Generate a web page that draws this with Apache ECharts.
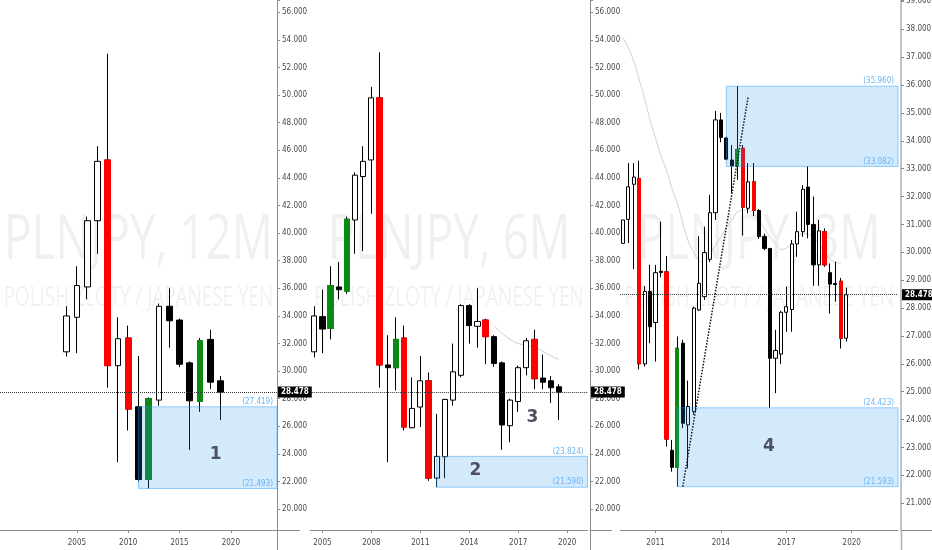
<!DOCTYPE html>
<html><head><meta charset="utf-8">
<script src="https://cdn.jsdelivr.net/npm/echarts@6/dist/echarts.min.js"></script>
<style>html,body{margin:0;padding:0;background:#fff}#c{width:932px;height:550px}</style>
</head><body><div id="c"></div>
<script>
// ===== Panel 1 : PLNJPY 12M (yearly) =====
const p1Years  = ['2004','2005','2006','2007','2008','2009','2010','2011','2012','2013','2014','2015','2016','2017','2018','2019'];
const p1Open   = [31.40,33.90,36.10,40.90,45.30,30.40,32.40,27.419,22.15,27.90,34.70,33.70,30.60,27.80,32.30,29.30];
const p1Close  = [34.00,36.20,40.90,45.20,30.40,32.35,27.25,22.15,28.00,34.70,33.65,30.50,27.85,32.20,29.20,28.478];
const p1Low    = [31.05,31.30,35.20,38.50,28.80,23.40,25.70,22.00,21.493,27.50,31.70,30.30,24.30,27.05,28.70,26.45];
const p1High   = [34.70,37.60,41.20,46.30,53.00,33.90,33.30,31.10,28.10,34.90,36.00,33.80,30.70,32.40,33.00,29.65];
const p1Marked = [0,0,0,0,1,0,1,0,1,0,0,0,0,1,0,0];
const p1TickCats = ['2005','2010','2015','2020'];
const p1ZoneStart = '2011';
const p1Zone = [21.493, 27.419];

// ===== Panel 2 : PLNJPY 6M (half-years) =====
const p2Halves = ['2004 H2','2005 H1','2005 H2','2006 H1','2006 H2','2007 H1','2007 H2','2008 H1','2008 H2','2009 H1','2009 H2','2010 H1','2010 H2','2011 H1','2011 H2','2012 H1','2012 H2','2013 H1','2013 H2','2014 H1','2014 H2','2015 H1','2015 H2','2016 H1','2016 H2','2017 H1','2017 H2','2018 H1','2018 H2','2019 H1','2019 H2'];
const p2Open   = [31.40,33.95,33.10,36.10,35.80,40.95,44.10,45.30,49.80,30.45,30.25,32.40,25.90,27.40,29.30,22.25,23.80,27.90,29.70,34.75,33.25,33.70,32.50,30.60,26.05,27.80,30.25,32.30,29.50,29.30,28.87];
const p2Close  = [34.00,33.05,36.20,35.90,41.00,44.20,45.20,49.80,30.45,30.25,32.30,25.95,27.30,29.30,22.25,23.824,27.95,29.95,34.75,33.30,33.60,32.50,30.55,26.10,27.90,30.25,32.20,29.45,29.20,28.80,28.478];
const p2Low    = [31.00,31.30,32.30,35.20,35.60,38.50,38.70,41.40,28.80,23.40,28.60,25.70,25.85,25.95,22.05,21.59,22.25,27.50,29.55,32.00,31.70,30.50,30.30,24.30,24.85,27.05,29.70,28.70,28.70,27.70,26.45];
const p2High   = [34.70,35.90,37.60,37.90,41.20,44.40,46.30,50.60,53.10,32.60,33.90,33.30,29.55,31.10,29.90,26.90,28.00,32.00,34.85,34.85,36.00,33.80,32.60,30.70,28.00,30.40,32.40,33.00,31.20,29.65,29.05];
const p2Marked = [0,0,1,0,1,0,0,0,1,0,1,1,0,0,1,0,0,0,0,0,0,1,0,0,0,0,0,1,0,0,0];
const p2MaStart = '2015 H2';
const p2Ma     = [33.30,32.75,32.30,32.00,31.85,31.75,31.45,31.10,30.85];
const p2TickCats = ['2005 H1','2008 H1','2011 H1','2014 H1','2017 H1','2020 H1'];
const p2ZoneStart = '2012 H1';
const p2Zone = [21.590, 23.824];

// ===== Panel 3 : PLNJPY 3M (quarters) =====
const p3Quarters = ['2009 Q3','2009 Q4','2010 Q1','2010 Q2','2010 Q3','2010 Q4','2011 Q1','2011 Q2','2011 Q3','2011 Q4','2012 Q1','2012 Q2','2012 Q3','2012 Q4','2013 Q1','2013 Q2','2013 Q3','2013 Q4','2014 Q1','2014 Q2','2014 Q3','2014 Q4','2015 Q1','2015 Q2','2015 Q3','2015 Q4','2016 Q1','2016 Q2','2016 Q3','2016 Q4','2017 Q1','2017 Q2','2017 Q3','2017 Q4','2018 Q1','2018 Q2','2018 Q3','2018 Q4','2019 Q1','2019 Q2','2019 Q3','2019 Q4'];
const p3Open   = [30.32,31.18,32.44,32.65,26.00,28.60,27.48,29.32,29.30,22.90,22.29,26.74,23.81,24.29,27.93,28.41,29.75,31.42,34.75,34.10,33.31,33.10,33.73,31.58,32.53,31.50,30.57,30.14,26.20,26.35,27.85,27.95,30.30,30.74,32.34,31.00,29.55,30.74,29.27,28.88,28.96,26.92];
const p3Close  = [31.16,32.35,32.70,26.00,28.60,27.33,29.27,29.28,23.30,22.29,26.56,23.87,24.47,28.00,28.89,29.99,31.42,34.75,34.12,33.34,33.10,33.69,31.62,32.53,31.50,30.56,30.14,26.20,26.48,27.85,28.05,30.30,30.74,32.26,31.00,29.55,30.77,29.55,28.86,28.84,26.92,28.478];
const p3Low    = [30.32,30.33,29.40,25.80,25.90,26.74,26.08,29.10,23.03,22.13,21.593,23.70,22.25,24.17,27.90,28.29,29.65,31.16,33.95,33.30,32.12,32.60,30.60,31.40,31.30,30.48,30.08,24.423,24.95,25.99,27.15,27.15,29.84,30.56,30.50,28.80,28.80,29.48,27.80,28.23,26.55,26.80];
const p3High   = [31.16,33.20,33.20,33.29,28.79,29.55,29.55,31.10,29.87,23.27,26.98,26.86,25.40,28.05,30.58,30.92,32.06,35.07,35.00,34.15,33.85,35.96,33.85,33.20,33.20,31.55,30.67,30.14,27.22,27.90,28.77,30.44,31.46,32.41,33.082,32.00,31.16,30.86,29.60,29.66,29.08,28.73];
const p3Marked = [0,0,0,1,0,0,0,0,1,0,1,0,0,0,0,0,0,0,0,0,0,1,1,0,1,0,0,0,0,0,0,0,0,0,0,0,0,1,0,0,1,0];
const p3MaStart = '2009 Q3';
const p3Ma     = [37.70,37.35,36.85,36.20,35.50,34.75,34.10,33.45,32.95,32.30,31.75,31.05,30.40,30.00,29.70,29.62,29.90,30.25,30.55,30.90,31.15,31.45,31.50,31.52,31.40,31.15,30.85,30.55,30.30,30.10,30.15,30.30,30.50,30.68,30.65,30.50,30.30,30.00,29.75,29.65,29.60];
const p3TickCats = ['2011 Q1','2014 Q1','2017 Q1','2020 Q1'];
const p3LowZoneStart = '2012 Q1';
const p3LowZone = [21.593, 24.423];
const p3HighZoneStart = '2014 Q2';
const p3HighZone = [33.082, 35.960];
const p3TrendFrom = ['2012 Q2', 21.593];
const p3TrendTo   = ['2015 Q2', 35.58];

const lastPrice = 28.478;
const titles = ['PLNJPY, 12M', 'PLNJPY, 6M', 'PLNJPY, 3M'];
const pairName = 'POLISH ZLOTY / JAPANESE YEN';

// ----- axis categories (data categories padded with empty periods) -----
const p1AxisCats = []; for (let y = 1998; y <= 2024; y++) p1AxisCats.push(String(y));
const p2AxisCats = []; { let y = 2004, h = 2; for (let i = 0; i < 34; i++) { p2AxisCats.push(y + ' H' + h); if (h === 2) { h = 1; y++; } else h = 2; } }
const p3AxisCats = []; { let y = 2009, q = 3; for (let i = 0; i < 51; i++) { p3AxisCats.push(y + ' Q' + q); q++; if (q > 4) { q = 1; y++; } } }

const FONT = '"Liberation Sans Narrow", "DejaVu Sans Condensed", Roboto, sans-serif';
const AXIS_COLOR = '#8c8c8c';
const LABEL_COLOR = '#4a4a4a';
const ZONE_FILL = 'rgba(33,150,243,0.20)';
const ZONE_BORDER = 'rgba(33,150,243,0.45)';
const ZONE_TEXT = '#6cb3f2';

function ohlcRows(axisCats, keys, o, c, l, h) {
  return axisCats.map(cat => { const i = keys.indexOf(cat); return i < 0 ? ['-','-','-','-'] : [o[i], c[i], l[i], h[i]]; });
}
function bodyRows(axisCats, keys, o, c, marked) {
  return axisCats.map(cat => { const i = keys.indexOf(cat);
    return (i < 0 || !marked[i]) ? ['-','-','-','-'] : [o[i], c[i], Math.min(o[i], c[i]), Math.max(o[i], c[i])]; });
}
function aligned(axisCats, startCat, values) {
  const s = axisCats.indexOf(startCat);
  return axisCats.map((c, i) => (i >= s && i - s < values.length) ? values[i - s] : null);
}
function zoneLabels(bounds) {
  return bounds.map(v => ({ yAxis: v, lineStyle: { color: 'rgba(255,255,255,0)', width: 0 },
    label: { show: true, position: 'insideEndTop', formatter: '(' + v.toFixed(3) + ')', color: ZONE_TEXT, fontSize: 8, fontFamily: FONT, distance: [4, 1] } }));
}
function priceLine(dist) {
  return { yAxis: lastPrice, lineStyle: { type: 'dotted', color: '#333', width: 1 },
    label: { show: true, position: 'end', distance: dist, formatter: lastPrice.toFixed(3), color: '#fff', backgroundColor: '#000',
      fontSize: 8, fontWeight: 'bold', fontFamily: FONT, padding: [2, 3, 1, 3] } };
}
function numMark(coord, text, offset) {
  return { coord: coord, label: { formatter: text, offset: offset || [0, 0] } };
}
const numStyle = { silent: true, symbol: 'circle', symbolSize: 1, itemStyle: { color: 'rgba(0,0,0,0)' },
  label: { show: true, position: 'inside', fontSize: 17, fontWeight: 'bold', color: '#4f5061', fontFamily: '"DejaVu Sans", sans-serif' } };

const grids = [
  { left: 0,     top: 0, width: 277,        height: 530 },
  { left: 310.2, top: 0, width: 34 * 8.157, height: 530 },
  { left: 620.1, top: 0, width: 51 * 5.45,  height: 530 }
];
grids.forEach(g => { g.containLabel = false; g.outerBoundsMode = 'none'; });

function xAxisFor(i, cats, ticks) {
  const fn = (idx, v) => ticks.indexOf(v) >= 0;
  return { gridIndex: i, type: 'category', data: cats, boundaryGap: true,
    axisLine: { show: true, lineStyle: { color: AXIS_COLOR, width: 1 } },
    axisTick: { show: true, alignWithLabel: true, interval: fn, length: 3, lineStyle: { color: AXIS_COLOR } },
    axisLabel: { show: true, interval: fn, formatter: v => v.slice(0, 4), fontSize: 8, color: LABEL_COLOR, fontFamily: FONT, margin: 9 },
    splitLine: { show: false } };
}
function yAxisFor(i, min, max, step, offset, lineColor, lineWidth) {
  return { gridIndex: i, type: 'value', position: 'right', min: min, max: max, minInterval: step, maxInterval: step, offset: offset,
    axisLine: { show: true, lineStyle: { color: lineColor, width: lineWidth } },
    axisTick: { show: true, length: 3, lineStyle: { color: AXIS_COLOR } },
    axisLabel: { show: true, fontSize: 8, color: LABEL_COLOR, fontFamily: FONT, margin: 5,
      formatter: v => Math.abs(v / step - Math.round(v / step)) < 1e-6 ? v.toFixed(3) : '' },
    splitLine: { show: false } };
}

const baseStyle = { color: '#ffffff', color0: '#000000', borderColor: '#000000', borderColor0: '#000000', borderWidth: 1 };
const markStyle = { color: '#0b8a12', color0: '#ff0000', borderColor: '#0b8a12', borderColor0: '#ff0000', borderWidth: 1 };
function zoneArea(items) {
  return { silent: true, z: 3, itemStyle: { color: ZONE_FILL, borderColor: ZONE_BORDER, borderWidth: 1 }, label: { show: false }, data: items };
}

const series = [
  // Panel 1
  { type: 'candlestick', xAxisIndex: 0, yAxisIndex: 0, barWidth: '62%', itemStyle: baseStyle,
    data: ohlcRows(p1AxisCats, p1Years, p1Open, p1Close, p1Low, p1High),
    markArea: zoneArea([[{ xAxis: p1ZoneStart, yAxis: p1Zone[0] }, { yAxis: p1Zone[1] }]]),
    markLine: { silent: true, symbol: 'none', data: [priceLine(1)].concat(zoneLabels(p1Zone)) },
    markPoint: Object.assign({}, numStyle, { data: [numMark(['2019', 23.92], '1', [-5, 0])] }) },
  { type: 'candlestick', xAxisIndex: 0, yAxisIndex: 0, barWidth: '62%', itemStyle: markStyle,
    data: bodyRows(p1AxisCats, p1Years, p1Open, p1Close, p1Marked) },
  // Panel 2
  { type: 'candlestick', xAxisIndex: 1, yAxisIndex: 1, barWidth: '70%', itemStyle: baseStyle,
    data: ohlcRows(p2AxisCats, p2Halves, p2Open, p2Close, p2Low, p2High),
    markArea: zoneArea([[{ xAxis: p2ZoneStart, yAxis: p2Zone[0] }, { yAxis: p2Zone[1] }]]),
    markLine: { silent: true, symbol: 'none', data: [priceLine(3.5)].concat(zoneLabels(p2Zone)) },
    markPoint: Object.assign({}, numStyle, { data: [numMark(['2014 H2', 22.76], '2', [-2, 0]), numMark(['2018 H1', 26.6], '3', [-2, 0])] }) },
  { type: 'candlestick', xAxisIndex: 1, yAxisIndex: 1, barWidth: '70%', itemStyle: markStyle,
    data: bodyRows(p2AxisCats, p2Halves, p2Open, p2Close, p2Marked) },
  { type: 'line', xAxisIndex: 1, yAxisIndex: 1, data: aligned(p2AxisCats, p2MaStart, p2Ma), smooth: 0.3, symbol: 'none',
    lineStyle: { color: '#cfcfcf', width: 1 }, silent: true, z: 1 },
  // Panel 3
  { type: 'candlestick', xAxisIndex: 2, yAxisIndex: 2, barWidth: '68%', itemStyle: baseStyle,
    data: ohlcRows(p3AxisCats, p3Quarters, p3Open, p3Close, p3Low, p3High),
    markArea: zoneArea([
      [{ xAxis: p3LowZoneStart, yAxis: p3LowZone[0] }, { yAxis: p3LowZone[1] }],
      [{ xAxis: p3HighZoneStart, yAxis: p3HighZone[0] }, { yAxis: p3HighZone[1] }]
    ]),
    markLine: { silent: true, symbol: 'none', data: [priceLine(4)].concat(zoneLabels(p3LowZone), zoneLabels(p3HighZone), [[
      { coord: p3TrendFrom, lineStyle: { type: 'dotted', color: '#111', width: 1.5 }, label: { show: false } },
      { coord: p3TrendTo }
    ]]) },
    markPoint: Object.assign({}, numStyle, { data: [numMark(['2016 Q2', 23.02], '4', [-1, 0])] }) },
  { type: 'candlestick', xAxisIndex: 2, yAxisIndex: 2, barWidth: '68%', itemStyle: markStyle,
    data: bodyRows(p3AxisCats, p3Quarters, p3Open, p3Close, p3Marked) },
  { type: 'line', xAxisIndex: 2, yAxisIndex: 2, data: aligned(p3AxisCats, p3MaStart, p3Ma), smooth: 0.3, symbol: 'none',
    lineStyle: { color: '#d2d2d2', width: 1 }, silent: true, z: 1 }
];

const centers = grids.map(g => g.left + g.width / 2);
const graphic = [];
centers.forEach((cx, i) => {
  graphic.push({ type: 'text', x: cx, y: 241, scaleX: 0.74, silent: true, z: -10,
    style: { text: titles[i], fontSize: 62, fontFamily: '"Open Sans", sans-serif', fill: 'rgba(0,0,0,0.06)', align: 'center', verticalAlign: 'middle' } });
  graphic.push({ type: 'text', x: cx, y: 298, scaleX: 0.7, silent: true, z: -10,
    style: { text: pairName, fontSize: 27, fontFamily: '"Open Sans", sans-serif', fill: 'rgba(0,0,0,0.06)', align: 'center', verticalAlign: 'middle' } });
});
// price-scale borders continue down through the time-scale strip; time-scale border runs under the price labels
[[277.5, AXIS_COLOR, 1], [590.5, AXIS_COLOR, 1], [901.5, '#b4b4b4', 1.6]].forEach(([x, col, w]) => {
  graphic.push({ type: 'line', silent: true, shape: { x1: x, y1: 530, x2: x, y2: 550 }, style: { stroke: col, lineWidth: w } });
});
[[277, 300], [590, 612], [901, 932]].forEach(([a, b]) => {
  graphic.push({ type: 'line', silent: true, shape: { x1: a, y1: 530.5, x2: b, y2: 530.5 }, style: { stroke: AXIS_COLOR, lineWidth: 1 } });
});

const chart = echarts.init(document.getElementById('c'), null, { renderer: 'canvas', width: 932, height: 550 });
chart.setOption({
  animation: false,
  backgroundColor: '#ffffff',
  textStyle: { fontFamily: FONT },
  grid: grids,
  xAxis: [xAxisFor(0, p1AxisCats, p1TickCats), xAxisFor(1, p2AxisCats, p2TickCats), xAxisFor(2, p3AxisCats, p3TickCats)],
  yAxis: [yAxisFor(0, 18.49, 56.89, 2, 0, AXIS_COLOR, 1), yAxisFor(1, 18.49, 56.89, 2, 2.5, AXIS_COLOR, 1), yAxisFor(2, 20.04, 39.05, 1, 2.95, '#b4b4b4', 1.6)],
  graphic: graphic,
  series: series
});
</script>
</body></html>
